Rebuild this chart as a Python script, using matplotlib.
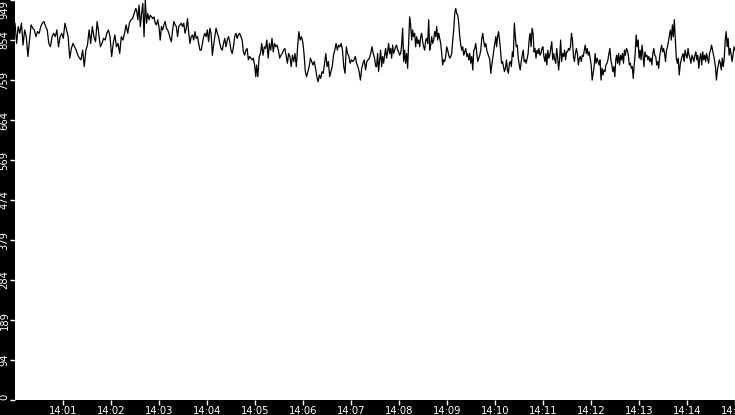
import matplotlib
matplotlib.use("Agg")
import matplotlib.pyplot as plt
import matplotlib.dates as mdates
import numpy as np
import pandas as pd

# values, split in six time blocks
seg1 = [894, 846, 886, 870, 894, 842, 878, 862, 815, 854, 890, 882, 878, 862, 874, 870,
        886, 894, 898, 886, 878, 846, 838, 862, 870, 862, 878, 838, 862, 870, 858, 894,
        878, 862, 811, 834, 846, 838, 830, 818, 811, 807, 830, 791, 830, 842, 878, 846,
        886, 862, 850, 898, 870, 838, 846, 858, 854, 870, 878, 862, 815, 846, 866, 838,
        846, 822, 862, 854, 870, 890, 870, 894, 902, 905, 917, 929]
seg2 = [925, 902, 937, 886, 917, 941, 862, 949, 894, 917, 902, 913, 909, 905, 909, 894,
        890, 902, 886, 854, 886, 878, 890, 898, 882, 878, 870, 858, 850, 878, 898, 890,
        886, 862, 886, 890, 894, 886, 894, 870, 882, 905, 870, 846, 862, 866, 854, 874,
        858, 862, 846, 830, 830, 846, 862, 870, 862, 878, 850, 882, 870, 818, 842, 862,
        882, 870, 862, 846, 834, 830, 846, 858, 838, 854, 862, 850, 830, 822, 838, 862,
        870, 858, 866, 870, 862, 854, 826, 818, 830, 834, 807, 815, 811, 807, 811, 795, 767]
seg3 = [795, 767, 815, 822, 846, 818, 838, 834, 854, 811, 846, 830, 858, 826, 846, 838,
        842, 830, 811, 818, 822, 830, 834, 818, 799, 822, 815, 791, 818, 803, 822, 791,
        838, 874, 854, 862, 850, 822, 779, 767, 779, 791, 811, 803, 795, 803, 787, 767,
        755, 771, 763, 779, 775, 799, 822, 791, 803, 767, 779, 791, 818, 830, 846, 830,
        842, 838, 846, 830, 791, 775, 838, 822, 815, 799, 807, 803, 807, 815, 799, 791,
        779, 759, 787, 799, 807, 783, 803, 807, 811, 822, 838, 822, 811, 791]
seg4 = [791, 822, 779, 807, 830, 791, 815, 799, 818, 834, 811, 826, 846, 822, 834, 811,
        842, 822, 830, 838, 842, 830, 826, 818, 822, 842, 882, 803, 830, 799, 822, 787,
        846, 909, 890, 854, 878, 862, 870, 838, 862, 846, 854, 838, 862, 870, 850, 838,
        830, 854, 858, 846, 902, 830, 842, 862, 846, 854, 874, 862, 886, 854, 870, 858,
        846, 822, 795, 807, 803, 815, 838, 830, 818, 811, 815, 822, 854, 878, 917, 929,
        917, 913, 894, 862, 842, 830, 838, 818, 826, 834, 815, 822, 807, 822, 799, 815,
        783, 830, 834, 846, 822, 803, 811, 818, 830, 858, 870, 850, 838, 846, 830, 822,
        815, 807, 775, 795, 811, 830, 846, 862]
seg5 = [838, 862, 874, 854, 830, 799, 803, 791, 779, 787, 807, 783, 775, 799, 803, 791,
        826, 815, 894, 862, 838, 842, 811, 795, 783, 803, 818, 830, 803, 807, 799, 811,
        822, 854, 870, 838, 882, 870, 826, 834, 811, 830, 822, 834, 818, 822, 834, 838,
        815, 803, 822, 795, 830, 811, 818, 834, 850, 807, 822, 807, 799, 834, 811, 783,
        811, 854, 803, 822, 815, 830, 807, 826, 826, 834, 830, 838, 870, 854, 815, 803,
        822, 834, 822, 795, 811, 815, 803, 818, 815, 830, 842, 822, 834, 818, 826, 811,
        795, 759, 775, 791, 822, 799, 811, 803, 795, 807, 759, 787, 771, 783, 779, 795,
        799, 807, 822, 834, 807, 795, 779, 791, 767, 807]
seg6 = [818, 799, 822, 795, 818, 807, 822, 799, 830, 818, 834, 830, 818, 795, 799, 787,
        791, 763, 795, 822, 866, 838, 854, 811, 830, 807, 842, 818, 791, 826, 815, 818,
        807, 815, 803, 811, 795, 822, 834, 818, 815, 795, 803, 787, 815, 830, 842, 826,
        834, 822, 803, 830, 838, 850, 866, 878, 854, 890, 862, 902, 854, 811, 799, 811,
        771, 795, 807, 815, 822, 803, 830, 818, 811, 834, 818, 811, 799, 818, 811, 803,
        818, 826, 807, 818, 787, 811, 822, 795, 826, 807, 818, 803, 822, 811, 799, 822,
        830, 842, 830, 818, 807, 791, 759, 783, 795, 807, 799, 783, 811, 791, 811, 854,
        874, 838, 858, 818, 834, 822, 803, 818, 838, 830]
seg_times = [("14:00:00", "14:02:31"), ("14:02:32", "14:05:01"), ("14:05:02", "14:07:31"),
             ("14:07:32", "14:10:01"), ("14:10:02", "14:12:31"), ("14:12:32", "14:15:00")]

day = "2024-01-01 "
times = []
values = []
for seg, (t0, t1) in zip([seg1, seg2, seg3, seg4, seg5, seg6], seg_times):
    times += list(pd.date_range(day + t0, day + t1, periods=len(seg)))
    values += seg

fig = plt.figure(figsize=(7.35, 4.15), dpi=100, facecolor="black")
ax = fig.add_axes([15 / 735, 15 / 415, 720 / 735, 400 / 415])
ax.set_facecolor("white")
ax.plot(times, values, color="black", linewidth=0.9)

ymax = max(values)
yt = np.arange(11) * ymax / 10
ax.set_ylim(0, ymax)
ax.set_yticks(yt)
ylabs = ax.set_yticklabels([str(int(v)) for v in yt], rotation=90, va="center")
# first and last labels stay inside the strip
ylabs[0].set_va("bottom")
ylabs[-1].set_va("top")

ax.set_xlim(pd.Timestamp(day + "14:00:00"), pd.Timestamp(day + "14:15:00"))
ax.set_xticks(pd.date_range(day + "14:01:00", day + "14:15:00", freq="1min"))
ax.xaxis.set_major_formatter(mdates.DateFormatter("%H:%M"))

ax.tick_params(colors="white", labelsize=7.2, length=3.5, width=1, pad=0.5)
for s in ax.spines.values():
    s.set_visible(False)

fig.savefig("out.png", dpi=100, facecolor="black")
